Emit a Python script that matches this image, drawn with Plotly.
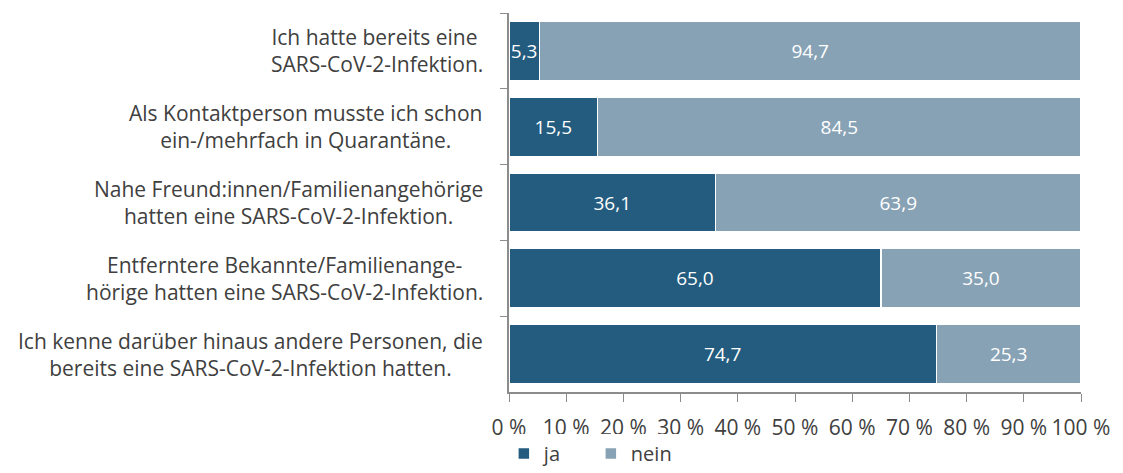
import plotly.graph_objects as go

# data
statements = [
    "Ich hatte bereits eine <br>SARS-CoV-2-Infektion.",
    "Als Kontaktperson musste ich schon<br>ein-/mehrfach in Quarantäne.",
    "Nahe Freund:innen/Familienangehörige<br>hatten eine SARS-CoV-2-Infektion.",
    "Entferntere Bekannte/Familienange-<br>hörige hatten eine SARS-CoV-2-Infektion.",
    "Ich kenne darüber hinaus andere Personen, die<br>bereits eine SARS-CoV-2-Infektion hatten.",
]
ja = [5.3, 15.5, 36.1, 65.0, 74.7]
nein = [94.7, 84.5, 63.9, 35.0, 25.3]
x_ticks = [0, 10, 20, 30, 40, 50, 60, 70, 80, 90, 100]
x_ticktext = [f"{v} %" for v in x_ticks]

FONT = "Open Sans"
TXT = "#404040"
AXIS = "#8c8c8c"


def de(v):
    return f"{v:.1f}".replace(".", ",")


fig = go.Figure()
fig.add_trace(go.Bar(
    y=statements, x=ja, orientation="h", name="ja",
    marker=dict(color="#235c7e", line=dict(color="white", width=1.5)),
    text=[de(v) for v in ja], textposition="inside", insidetextanchor="middle",
    textangle=0, constraintext="none",
    textfont=dict(color="white", size=19, family=FONT),
))
fig.add_trace(go.Bar(
    y=statements, x=nein, orientation="h", name="nein",
    marker=dict(color="#87a2b5", line=dict(color="white", width=1.5)),
    text=[de(v) for v in nein], textposition="inside", insidetextanchor="middle",
    textangle=0, constraintext="none",
    textfont=dict(color="white", size=19, family=FONT),
))

# category labels, centred lines, right edge near the axis
for s in statements:
    fig.add_annotation(
        x=0, xref="paper", xshift=-24, xanchor="right",
        y=s, yref="y", yanchor="middle",
        text=s, align="center", showarrow=False,
        font=dict(size=21, color=TXT, family=FONT),
    )

fig.update_layout(
    width=1123, height=473,
    barmode="stack", bargap=0.22,
    plot_bgcolor="white", paper_bgcolor="white",
    margin=dict(l=501, r=50, t=5, b=89, autoexpand=False),
    font=dict(family=FONT, color=TXT, size=20),
    uniformtext=dict(mode="show", minsize=10),
    legend=dict(orientation="h", x=-0.009, xanchor="left",
                yref="container", y=0.058, yanchor="middle",
                font=dict(size=20, color=TXT), itemwidth=30,
                entrywidth=42, entrywidthmode="pixels", traceorder="normal"),
    showlegend=True,
)
fig.update_xaxes(
    range=[0, 100], tickmode="array", tickvals=x_ticks, ticktext=x_ticktext,
    showgrid=False, zeroline=False,
    showline=True, linecolor=AXIS, linewidth=1.5,
    ticks="outside", ticklen=8, tickcolor=AXIS, ticklabelstandoff=8,
    tickfont=dict(size=21, color=TXT),
)
fig.update_yaxes(
    type="category", autorange="reversed", showticklabels=False,
    tickson="boundaries", ticks="outside", ticklen=7, tickcolor=AXIS,
    showline=True, linecolor=AXIS, linewidth=1.5,
    showgrid=False, zeroline=False,
)

fig.write_html("out.html")
